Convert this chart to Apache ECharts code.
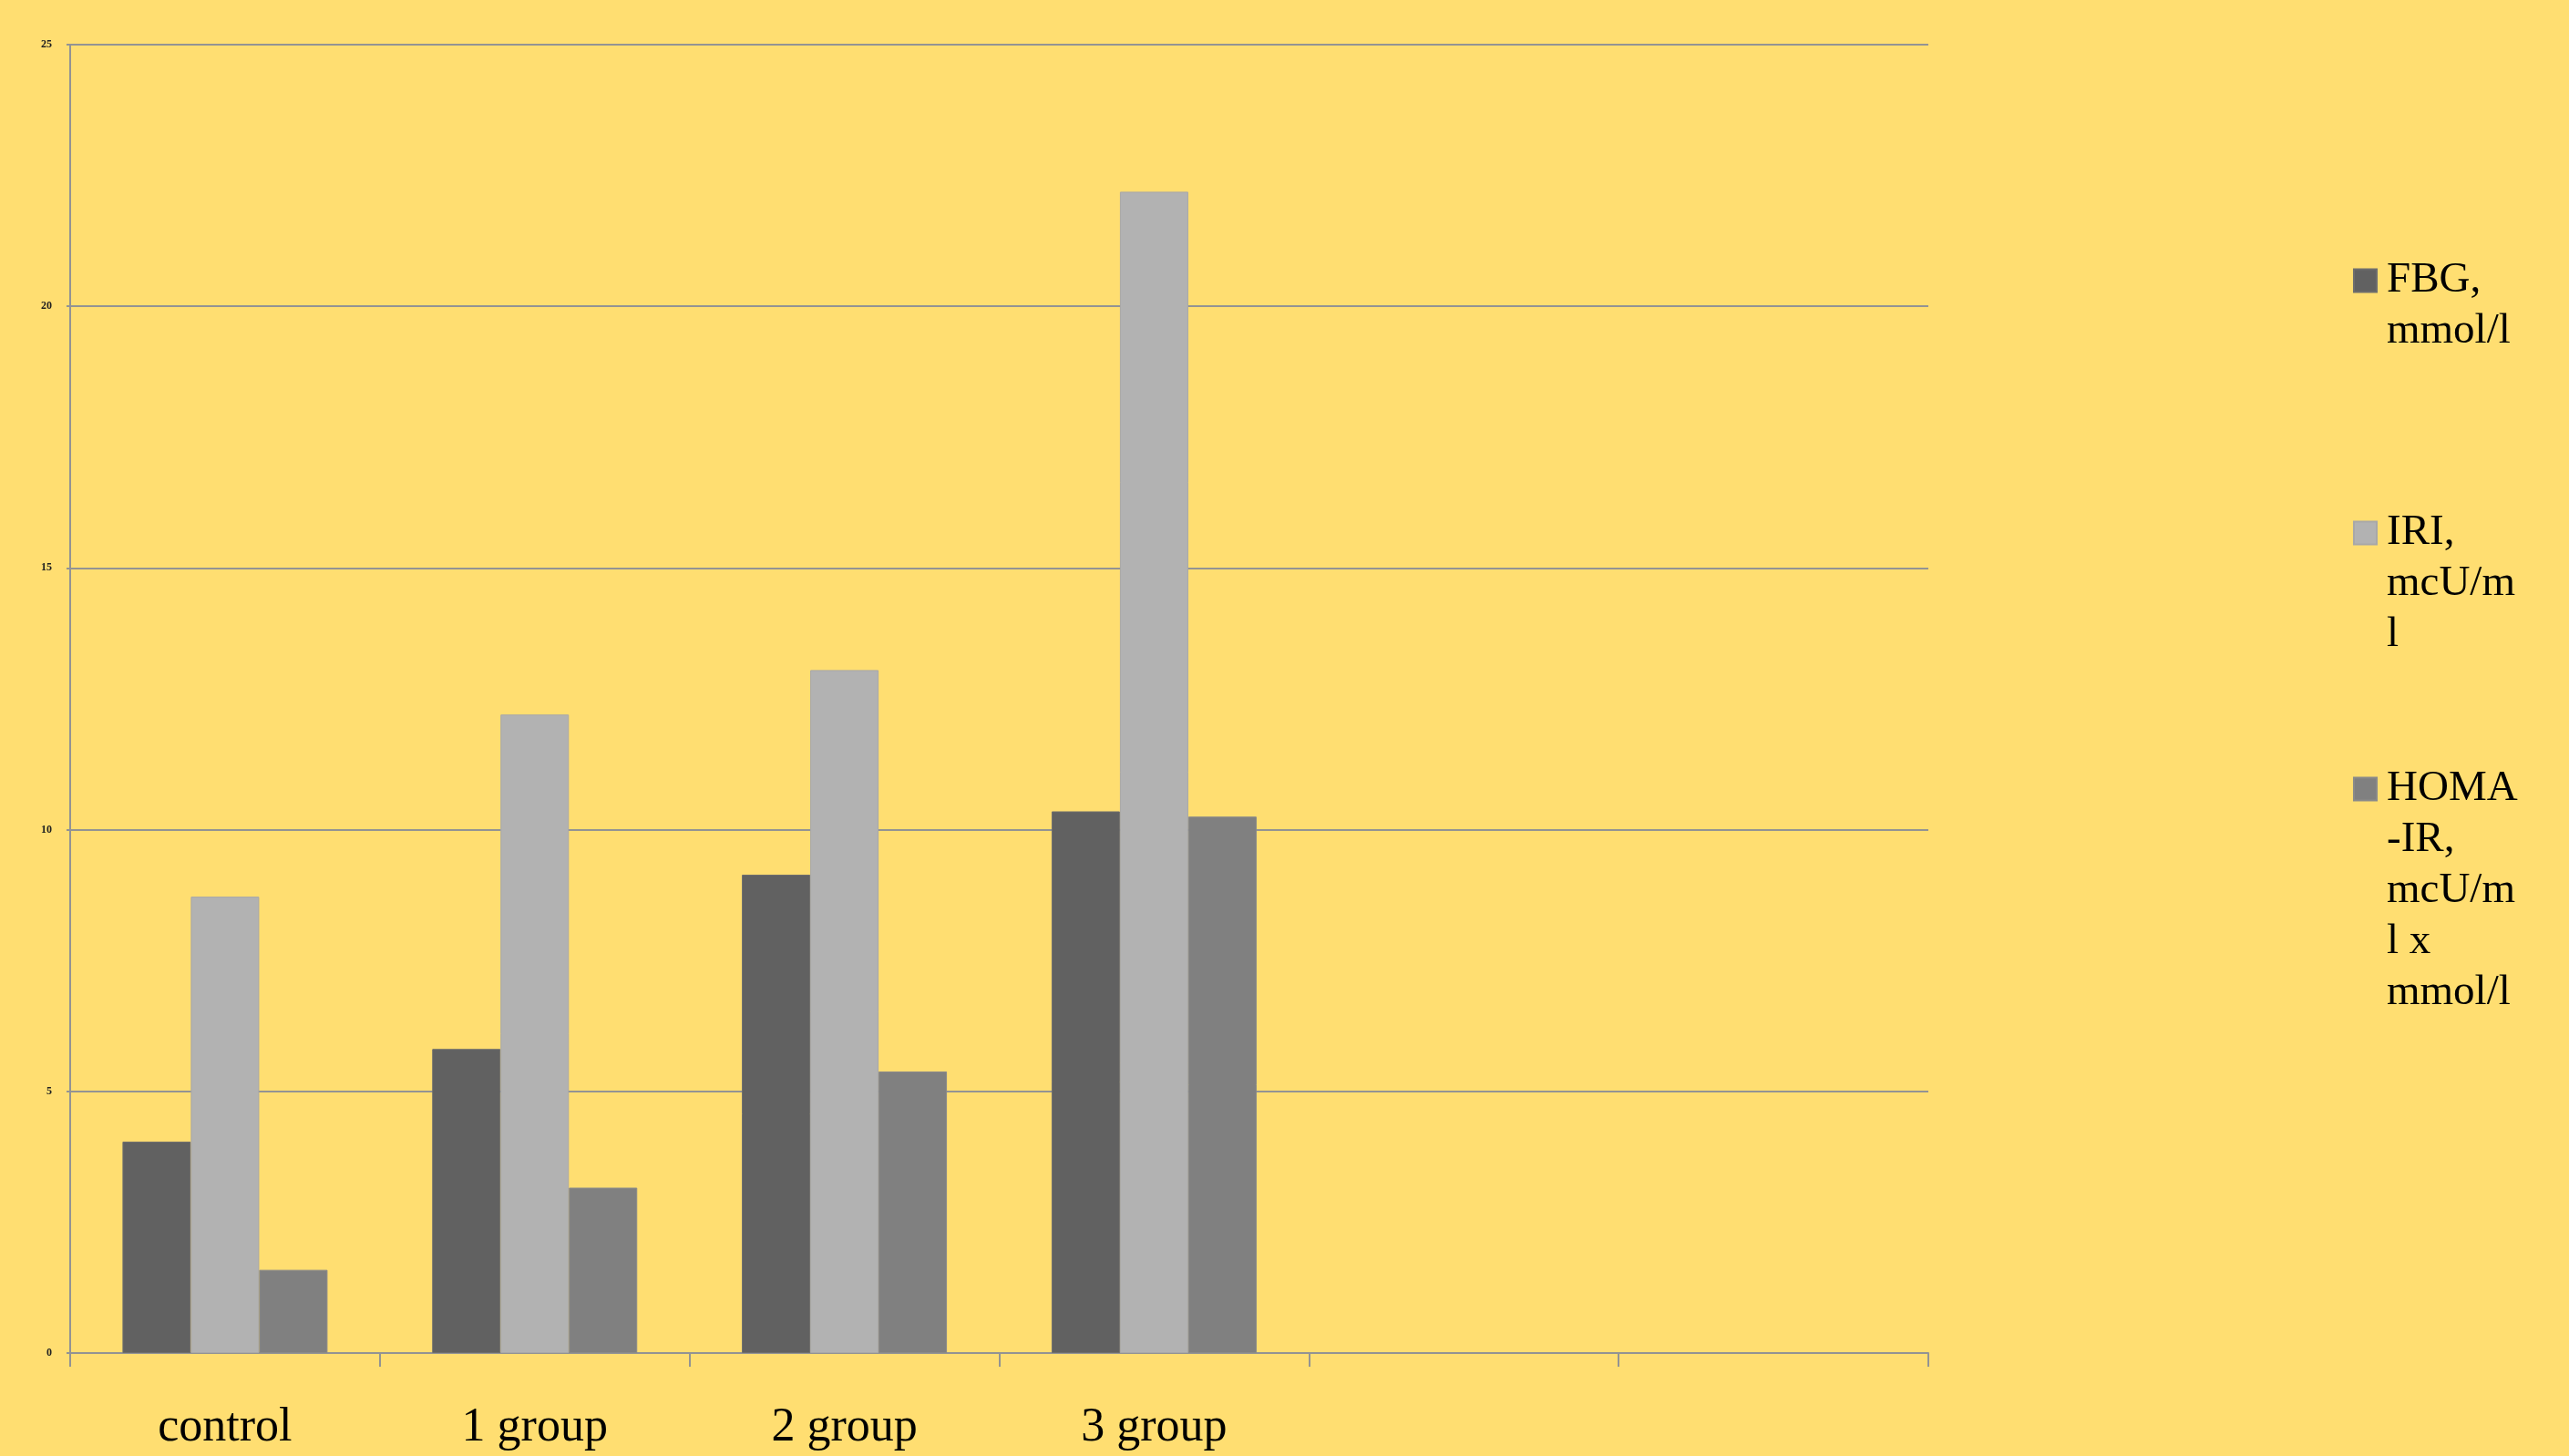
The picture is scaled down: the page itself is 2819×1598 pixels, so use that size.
<!DOCTYPE html>
<html>
<head>
<meta charset="utf-8">
<script src="https://cdn.jsdelivr.net/npm/echarts@6/dist/echarts.min.js"></script>
<style>
  html, body { margin: 0; padding: 0; background: #FFDE71; }
  #box { width: 2819px; height: 1598px; }
</style>
</head>
<body>
<div id="box"></div>
<script>
// categories and values
var groups = ['control', '1 group', '2 group', '3 group', '', ''];
var yTicks = [0, 5, 10, 15, 20, 25];
var fbg = [4.04, 5.81, 9.14, 10.35];
var iri = [8.72, 12.2, 13.05, 22.19];
var homa = [1.59, 3.16, 5.38, 10.25];
var names = ['FBG, mmol/l', 'IRI, mcU/ml', 'HOMA-IR, mcU/ml x mmol/l'];
var wrapped = {
    'FBG, mmol/l': ['FBG,', 'mmol/l'],
    'IRI, mcU/ml': ['IRI,', 'mcU/m', 'l'],
    'HOMA-IR, mcU/ml x mmol/l': ['HOMA', '-IR,', 'mcU/m', 'l x', 'mmol/l']
};
var colors = ['#616161', '#b2b2b2', '#808080'];

var lh = 56;
var serif = "'Liberation Serif', 'DejaVu Serif', serif";

// one legend per series; blank lines above push the marker onto the first text line
function legendFor(name, centerY) {
    var lines = wrapped[name];
    var n = lines.length;
    var pad = [];
    for (var i = 0; i < n - 1; i++) pad.push(' ');
    return {
        orient: 'vertical',
        left: 2577,
        top: centerY - (2 * n - 1) * lh / 2 - 5,
        itemWidth: 25,
        itemHeight: 25,
        icon: 'rect',
        selectedMode: false,
        data: [name],
        formatter: function() { return pad.concat(lines).join('\n'); },
        textStyle: {
            fontFamily: serif,
            fontSize: 47,
            lineHeight: lh,
            color: '#000',
            padding: [0, 0, 0, 6]
        }
    };
}

var myChart = echarts.init(document.getElementById('box'));
var option = {
    backgroundColor: '#FFDE71',
    animation: false,
    legend: [
        legendFor(names[0], 308),
        legendFor(names[1], 585),
        legendFor(names[2], 866)
    ],
    grid: {
        left: 77,
        right: 703,
        top: 49,
        bottom: 113
    },
    xAxis: {
        type: 'category',
        data: groups,
        axisLine: { lineStyle: { color: '#939393', width: 2 } },
        axisTick: { show: true, interval: 0, length: 15, lineStyle: { color: '#939393', width: 2 } },
        axisLabel: {
            interval: 0,
            margin: 52,
            fontFamily: serif,
            fontSize: 52,
            lineHeight: 60,
            color: '#000'
        }
    },
    yAxis: {
        type: 'value',
        min: yTicks[0],
        max: yTicks[yTicks.length - 1],
        interval: 5,
        axisLine: { show: true, lineStyle: { color: '#939393', width: 2 } },
        axisTick: { show: true, length: 4, lineStyle: { color: '#939393', width: 2 } },
        splitLine: { lineStyle: { color: '#939393', width: 2 } },
        axisLabel: {
            margin: 20,
            fontFamily: serif,
            fontSize: 12,
            fontWeight: 'bold',
            color: '#222'
        }
    },
    series: [{
            name: names[0],
            type: 'bar',
            data: fbg,
            barWidth: 75,
            barGap: '0%',
            itemStyle: { color: colors[0], borderColor: '#6e6e6e', borderWidth: 1 }
        },
        {
            name: names[1],
            type: 'bar',
            data: iri,
            barWidth: 75,
            barGap: '0%',
            itemStyle: { color: colors[1], borderColor: '#a8a8a8', borderWidth: 1 }
        },
        {
            name: names[2],
            type: 'bar',
            data: homa,
            barWidth: 75,
            barGap: '0%',
            itemStyle: { color: colors[2], borderColor: '#8a8a8a', borderWidth: 1 }
        }
    ]
};
myChart.setOption(option);
</script>
</body>
</html>
